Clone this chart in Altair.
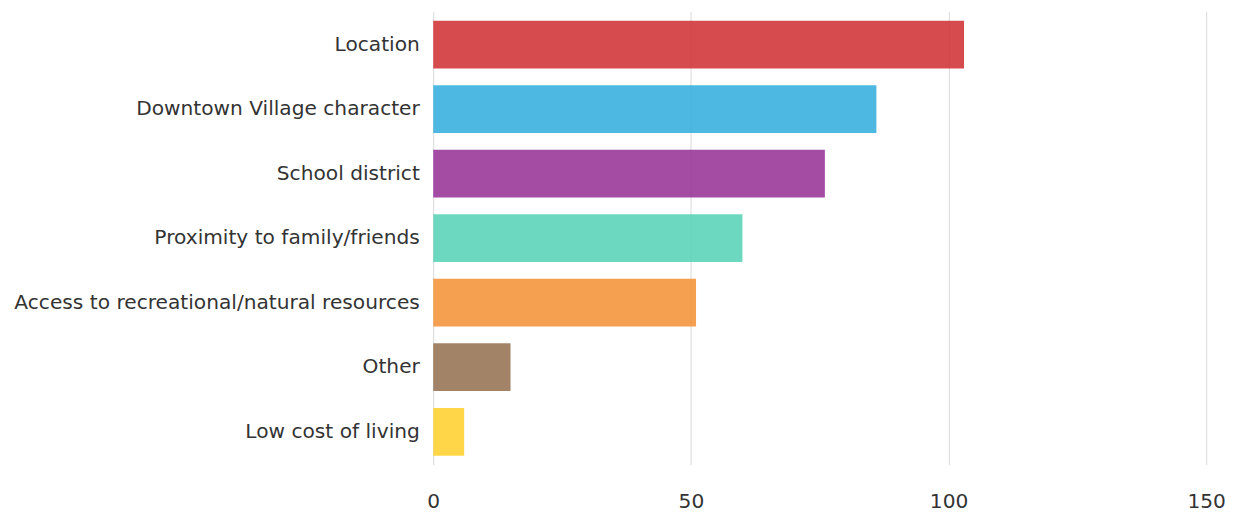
import altair as alt
import pandas as pd

categories = ["Location", "Downtown Village character", "School district",
              "Proximity to family/friends", "Access to recreational/natural resources",
              "Other", "Low cost of living"]
values = [103, 86, 76, 60, 51, 15, 6]
colors = ["#CF2B2F", "#2EADDD", "#942B94", "#53D1B5", "#F38F31", "#936D4D", "#FFCF28"]
x_ticks = [0, 50, 100, 150]

FONT = "DejaVu Sans"

df = pd.DataFrame({"category": categories, "value": values})

chart = alt.Chart(df).mark_bar(opacity=0.85).encode(
    y=alt.Y("category:N", sort=categories, title=None,
            scale=alt.Scale(paddingInner=0.26, paddingOuter=0.14),
            axis=alt.Axis(labelFont=FONT, labelFontSize=20.3, labelColor="#333333",
                          ticks=False, domain=False, labelPadding=14, labelLimit=600)),
    x=alt.X("value:Q", title=None,
            scale=alt.Scale(domain=[0, 150], nice=False),
            axis=alt.Axis(values=x_ticks, labelFont=FONT, labelFontSize=20.3,
                          labelColor="#333333", ticks=False, domain=False,
                          labelPadding=27, grid=True, gridColor="#d9d9d9",
                          labelFlush=False)),
    color=alt.Color("category:N", sort=categories,
                    scale=alt.Scale(domain=categories, range=colors), legend=None),
).properties(
    width=778, height=456,
    padding={"left": 6, "top": 2, "right": 10, "bottom": 5},
).configure_view(stroke=None)

chart.save("out.html", embed_options={"renderer": "svg", "actions": False})
